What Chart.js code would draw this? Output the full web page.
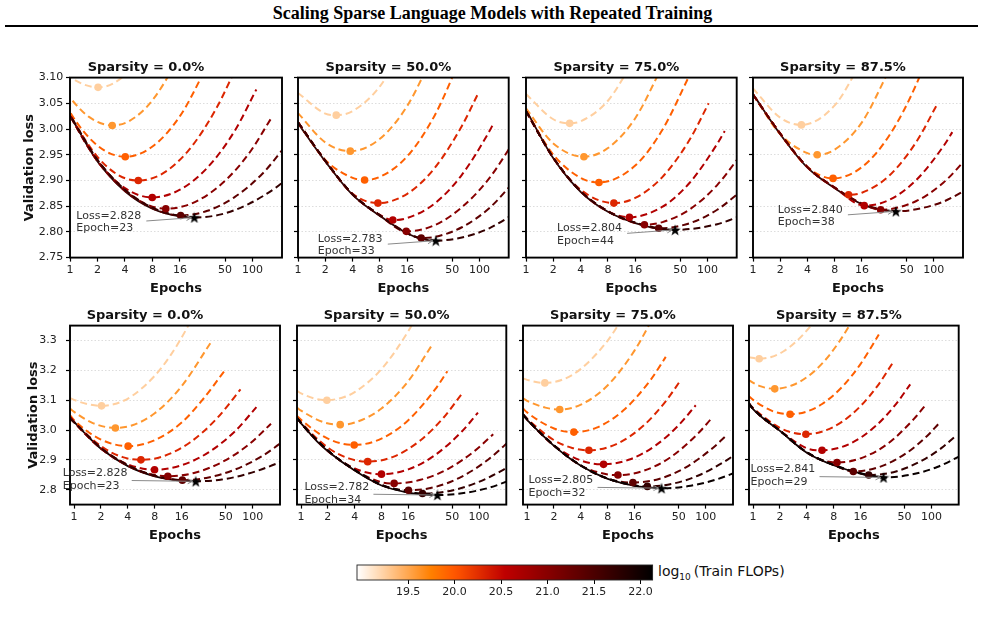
<!DOCTYPE html>
<html>
<head>
<meta charset="utf-8">
<script src="https://cdn.jsdelivr.net/npm/chart.js@4.4.1/dist/chart.umd.min.js"></script>
<style>
  html, body { margin: 0; padding: 0; background: #fff; }
  body { position: relative; width: 985px; height: 635px; overflow: hidden; font-family: "DejaVu Sans", sans-serif; }
  canvas { position: absolute; }
  #header { position: absolute; left: 0; top: 3px; width: 985px; text-align: center;
            font: bold 18px "Liberation Serif", serif; color: #000; }
  #rule { position: absolute; left: 5px; top: 25px; width: 973px; height: 2px; background: #000; }
  #cblabel { position: absolute; left: 658px; top: 563px; font: 14px "DejaVu Sans", sans-serif; color: #111; white-space: nowrap; }
  #cblabel sub { font-size: 9px; margin-right: 3px; }
</style>
</head>
<body>
<div id="header">Scaling Sparse Language Models with Repeated Training</div>
<div id="rule"></div>
<div id="cblabel">log<sub>10</sub>(Train FLOPs)</div>
<script>
// ---------- data ----------
const sparsityLabels = ["0.0%", "50.0%", "75.0%", "87.5%"];
const epochTicks = [1, 2, 4, 8, 16, 50, 100];
const lossTicksTop = [2.75, 2.80, 2.85, 2.90, 2.95, 3.00, 3.05, 3.10];
const lossTicksBottom = [2.8, 2.9, 3.0, 3.1, 3.2, 3.3];
const flopsLevels = [19.25, 19.6, 19.95, 20.3, 20.65, 21.0, 21.35, 21.7, 22.05];
const flopsTicks = [19.5, 20.0, 20.5, 21.0, 21.5, 22.0];
const flopsRange = [18.95, 22.13];

// [epochs, validation loss] per FLOPs budget, lightest first
const curves0 = [
  [[0.9,3.107],[1,3.101],[1.4,3.087],[2.03,3.081],[3,3.089],[4.5,3.115],[8,3.182],[12,3.25],[18.9,3.349],[22,3.39]],
  [[0.9,3.072],[1,3.061],[1.6,3.024],[2.9,3.007],[4.5,3.016],[8,3.056],[16,3.147],[33.7,3.292]],
  [[0.9,3.05],[1,3.033],[2,2.968],[4.03,2.946],[8,2.966],[16,3.025],[27.2,3.10],[49.6,3.203]],
  [[0.9,3.044],[1,3.028],[2,2.946],[3.5,2.909],[5.6,2.90],[10,2.912],[20,2.959],[40,3.04],[73,3.136]],
  [[0.9,3.044],[1,3.027],[2,2.938],[4,2.885],[7.96,2.867],[16,2.882],[32,2.925],[64,2.997],[110,3.077]],
  [[0.9,3.044],[1,3.027],[2,2.938],[4,2.880],[7,2.853],[11.2,2.845],[22,2.856],[45,2.892],[90,2.951],[160,3.021]],
  [[0.9,3.041],[1,3.026],[2,2.940],[4,2.881],[8,2.846],[16.3,2.832],[32,2.841],[64,2.868],[128,2.913],[230,2.967]],
  [[0.9,3.037],[1,3.026],[2,2.940],[4,2.882],[8,2.847],[16,2.831],[23,2.828],[45,2.834],[90,2.854],[180,2.886],[230,2.901]]
];
const envelope0 = [[1,3.027],[1.5,2.972],[2,2.937],[4,2.879],[8,2.845],[16,2.830],[23,2.828]];

const curves50 = [
  [[1,3.070],[2,3.030],[2.64,3.027],[4,3.035],[8,3.083],[16,3.174]],
  [[1,3.031],[2,2.974],[3.77,2.957],[8,2.981],[16,3.045],[32,3.150]],
  [[1,3.013],[2,2.940],[4,2.905],[5.42,2.901],[8,2.907],[16,2.947],[32,3.026],[64,3.143]],
  [[1,3.013],[2,2.938],[4,2.874],[7.6,2.856],[16,2.874],[32,2.924],[64,3.006],[96,3.068]],
  [[1,3.013],[2,2.938],[4,2.873],[8,2.833],[11.1,2.823],[16,2.827],[32,2.855],[64,2.911],[128,2.995],[143,3.011]],
  [[1,3.013],[2,2.938],[4,2.873],[8,2.832],[15.6,2.801],[32,2.813],[64,2.848],[128,2.904],[256,2.984]],
  [[1,3.013],[2,2.938],[4,2.873],[8,2.832],[16,2.798],[22.8,2.788],[32,2.790],[64,2.809],[128,2.846],[256,2.903]],
  [[1,3.013],[2,2.938],[4,2.873],[8,2.832],[16,2.797],[33,2.783],[64,2.789],[128,2.807],[256,2.838]]
];
const envelope50 = [[1,3.011],[2,2.937],[4,2.872],[8,2.831],[16,2.797],[22.8,2.787],[33,2.783]];

const curves75 = [
  [[1,3.068],[2,3.019],[3.03,3.011],[4,3.015],[8,3.055],[16,3.139]],
  [[1,3.040],[2,2.972],[4.35,2.946],[8,2.963],[16,3.021],[32,3.123]],
  [[1,3.035],[2,2.950],[4,2.905],[6.37,2.896],[16,2.929],[32,2.999],[64,3.106]],
  [[1,3.035],[2,2.944],[4,2.882],[9.3,2.856],[16,2.866],[32,2.907],[64,2.980],[103,3.050]],
  [[1,3.035],[2,2.944],[4,2.879],[8,2.840],[13.8,2.8285],[32,2.849],[64,2.896],[128,2.971],[155,2.996]],
  [[1,3.035],[2,2.944],[4,2.879],[8,2.840],[16,2.817],[20.2,2.814],[32,2.819],[64,2.844],[128,2.891],[256,2.960]],
  [[1,3.035],[2,2.944],[4,2.879],[8,2.840],[16,2.818],[29,2.807],[64,2.817],[128,2.843],[256,2.885]],
  [[1,3.035],[2,2.944],[4,2.879],[8,2.840],[16,2.818],[32,2.806],[44,2.804],[128,2.815],[256,2.834]]
];
const envelope75 = [[1,3.037],[2,2.943],[4,2.878],[8,2.839],[16,2.817],[29,2.806],[44,2.804]];

const curves875 = [
  [[1,3.079],[2,3.022],[3.43,3.008],[8,3.046],[16,3.132]],
  [[1,3.067],[2,2.990],[4,2.953],[5.13,2.950],[8,2.960],[16,3.013],[32,3.114]],
  [[1,3.067],[2,2.991],[4,2.926],[7.68,2.904],[16,2.926],[32,2.987],[64,3.087],[128,3.226]],
  [[1,3.067],[2,2.991],[4,2.926],[8,2.886],[11.4,2.872],[16,2.876],[32,2.909],[64,2.975],[108,3.047]],
  [[1,3.067],[2,2.991],[4,2.926],[8,2.886],[17,2.851],[32,2.862],[64,2.901],[128,2.967],[160,2.994]],
  [[1,3.067],[2,2.991],[4,2.926],[8,2.886],[16,2.855],[25.8,2.843],[64,2.860],[128,2.896],[256,2.952]],
  [[1,3.067],[2,2.991],[4,2.926],[8,2.886],[16,2.855],[32,2.841],[38,2.840],[64,2.844],[128,2.859],[256,2.887]]
];
const envelope875 = [[1,3.068],[2,2.990],[4,2.925],[8,2.885],[16,2.854],[25.8,2.843],[38,2.840]];

// second row (other fit), 50 / 75 / 87.5 %
const curves50b = [
  [[0.9,3.131],[1,3.123],[1.4,3.106],[1.95,3.100],[3,3.110],[4,3.127],[8,3.204],[16,3.331],[20,3.383]],
  [[0.9,3.075],[1,3.065],[1.8,3.026],[2.75,3.018],[4,3.025],[8,3.072],[16,3.164],[29.9,3.287]],
  [[0.9,3.047],[1,3.034],[2,2.971],[3.95,2.950],[8,2.971],[16,3.033],[32,3.136],[44,3.197]],
  [[0.9,3.041],[1,3.025],[2,2.941],[3.5,2.904],[5.6,2.894],[11,2.911],[22,2.966],[40,3.042],[64.6,3.123]],
  [[0.9,3.041],[1,3.023],[2,2.930],[4,2.871],[8,2.852],[16,2.868],[32,2.916],[64,2.995],[97,3.058]],
  [[0.9,3.041],[1,3.023],[2,2.931],[4,2.866],[8,2.825],[11.1,2.821],[22,2.833],[45,2.870],[90,2.931],[144,2.986]],
  [[0.9,3.041],[1,3.023],[2,2.931],[4,2.866],[8,2.816],[16.1,2.798],[32,2.809],[64,2.844],[128,2.902],[230,2.969]],
  [[0.9,3.041],[1,3.023],[2,2.931],[4,2.866],[8,2.816],[16,2.793],[23.1,2.787],[45,2.795],[90,2.821],[180,2.864],[230,2.884]],
  [[0.9,3.041],[1,3.023],[2,2.931],[4,2.866],[8,2.816],[16,2.792],[24,2.785],[34,2.782],[64,2.788],[128,2.806],[230,2.833]]
];
const envelope50b = [[1,3.022],[1.5,2.963],[2,2.929],[4,2.864],[8,2.814],[16,2.790],[23,2.784],[34,2.782]];

const curves75b = [
  [[0.9,3.173],[1,3.168],[1.58,3.158],[2.5,3.169],[4,3.205],[8,3.300],[12,3.380]],
  [[0.9,3.106],[1,3.098],[1.6,3.075],[2.32,3.069],[4,3.085],[8,3.150],[16,3.267],[26,3.379]],
  [[0.9,3.072],[1,3.059],[2,3.005],[3.34,2.993],[6,3.008],[12,3.066],[24,3.167],[35.7,3.245]],
  [[0.9,3.052],[1,3.038],[2,2.966],[3.2,2.940],[4.92,2.932],[10,2.953],[20,3.014],[36,3.098],[51.6,3.164]],
  [[0.9,3.052],[1,3.036],[2,2.948],[4,2.898],[7.18,2.885],[14,2.901],[28,2.950],[50,3.017],[77.3,3.083]],
  [[0.9,3.052],[1,3.036],[2,2.948],[4,2.881],[8,2.851],[10.4,2.849],[20,2.863],[40,2.908],[80,2.985],[114,3.036]],
  [[0.9,3.052],[1,3.036],[2,2.948],[4,2.881],[8,2.837],[15.3,2.824],[30,2.836],[60,2.875],[120,2.940],[168,2.980]],
  [[0.9,3.052],[1,3.036],[2,2.948],[4,2.881],[8,2.837],[16,2.814],[22.2,2.811],[44,2.821],[88,2.851],[176,2.901],[230,2.926]],
  [[0.9,3.052],[1,3.036],[2,2.948],[4,2.881],[8,2.837],[16,2.814],[22,2.808],[32,2.805],[64,2.812],[128,2.833],[230,2.861]]
];
const envelope75b = [[1,3.033],[2,2.947],[4,2.880],[8,2.836],[16,2.813],[22,2.808],[32,2.805]];

const curves875b = [
  [[0.89,3.244],[1.17,3.239],[1.6,3.245],[2.2,3.264],[3,3.295],[4.45,3.350],[5.5,3.389]],
  [[0.89,3.167],[1.2,3.147],[1.75,3.138],[2.8,3.151],[4,3.177],[6,3.224],[9,3.291],[12,3.350],[14,3.385]],
  [[0.89,3.114],[1,3.101],[1.7,3.062],[2.6,3.053],[4,3.062],[6,3.088],[10,3.145],[16,3.221],[25.7,3.320]],
  [[0.89,3.090],[1,3.074],[2,3.007],[2.8,2.991],[3.91,2.986],[6,2.995],[10,3.028],[16,3.080],[25,3.149],[37.5,3.229]],
  [[0.89,3.090],[1,3.071],[2,2.998],[4,2.939],[5.93,2.932],[12,2.953],[24,3.015],[40,3.087],[57.8,3.153]],
  [[0.89,3.090],[1,3.071],[2,2.998],[4,2.925],[6,2.899],[8.73,2.891],[16,2.905],[32,2.953],[64,3.038],[83.8,3.080]],
  [[0.89,3.090],[1,3.071],[2,2.998],[4,2.925],[8,2.883],[13.3,2.861],[26,2.876],[52,2.922],[90,2.981],[121,3.022]],
  [[0.89,3.090],[1,3.071],[2,2.998],[4,2.925],[8,2.883],[14,2.859],[19.8,2.849],[40,2.861],[80,2.899],[130,2.940],[179,2.975]],
  [[0.89,3.090],[1,3.071],[2,2.998],[4,2.925],[8,2.883],[16,2.855],[21,2.847],[29,2.841],[58,2.850],[116,2.876],[230,2.919]]
];
const envelope875b = [[0.9,3.089],[1,3.070],[2,2.997],[4,2.924],[8,2.882],[16,2.855],[29,2.841]];

// ---------- layout (plot-area boxes in page pixels) ----------
const topBoxes = [[70, 78, 212, 180], [298.3, 78, 210.7, 180], [526, 78, 210.7, 180], [753.3, 78, 210, 180]];
const bottomBoxes = [[70, 326, 210, 179], [296.7, 326, 209.3, 179], [522.7, 326, 210, 179], [749.3, 326, 209.7, 179]];

Chart.defaults.font.family = '"DejaVu Sans", sans-serif';
Chart.defaults.color = "#222";

// gist_heat_r colormap
function heat(v) {
  let t = (v - flopsRange[0]) / (flopsRange[1] - flopsRange[0]);
  t = Math.min(1, Math.max(0, t));
  const x = 1 - t;
  const cl = (a) => Math.round(Math.min(1, Math.max(0, a)) * 255);
  return "rgb(" + cl(1.5 * x) + "," + cl(2 * x - 1) + "," + cl(4 * x - 3) + ")";
}

function starImage(size) {
  const c = document.createElement("canvas");
  c.width = c.height = size;
  const g = c.getContext("2d");
  g.fillStyle = "#000";
  g.beginPath();
  for (let i = 0; i < 10; i++) {
    const r = i % 2 ? size * 0.2 : size * 0.5;
    const a = -Math.PI / 2 + i * Math.PI / 5;
    g.lineTo(size / 2 + r * Math.cos(a), size / 2 + 0.6 + r * Math.sin(a));
  }
  g.closePath();
  g.fill();
  return c;
}
const starImg = starImage(12);

const framePlugin = {
  id: "frame",
  afterDatasetsDraw(chart) {
    const { ctx, chartArea: a } = chart;
    ctx.save();
    ctx.strokeStyle = "#000";
    ctx.lineWidth = 1.9;
    ctx.strokeRect(a.left, a.top, a.right - a.left, a.bottom - a.top);
    ctx.restore();
  }
};

const starNote = {
  id: "starNote",
  afterDatasetsDraw(chart, args, o) {
    if (!o || o.epoch == null) return;
    const { ctx } = chart;
    const px = chart.scales.x.getPixelForValue(o.epoch);
    const py = chart.scales.y.getPixelForValue(o.loss);
    const tx = px + o.tail[0], ty = py + o.tail[1];
    const len = Math.hypot(px - tx, py - ty);
    const ux = (px - tx) / len, uy = (py - ty) / len;
    const ex = px - ux * 3, ey = py - uy * 3;
    ctx.save();
    ctx.strokeStyle = "#8a8a8a";
    ctx.lineWidth = 1;
    ctx.beginPath();
    ctx.moveTo(tx, ty);
    ctx.lineTo(ex, ey);
    const hx = -ux * 5, hy = -uy * 5;
    ctx.moveTo(ex + hx - uy * 2.5, ey + hy + ux * 2.5);
    ctx.lineTo(ex, ey);
    ctx.lineTo(ex + hx + uy * 2.5, ey + hy - ux * 2.5);
    ctx.stroke();
    ctx.fillStyle = "#333";
    ctx.font = '11px "DejaVu Sans", sans-serif';
    ctx.textAlign = "left";
    ctx.textBaseline = "middle";
    ctx.fillText("Loss=" + o.loss.toFixed(3), px + o.text[0], py + o.text[1]);
    ctx.fillText("Epoch=" + Math.round(o.epoch), px + o.text[0], py + o.text[2]);
    ctx.restore();
  }
};

function addPanel(box, col, bottomRow, label, curves, envelope) {
  const [L, T, W, H] = box;
  const padL = col === 0 ? 60 : 30;
  const padT = 19.6; // title 13px * 1.2 + 4 padding
  const cw = Math.ceil(2 * padL + W);
  const ch = Math.ceil(padT + H + 40);
  const padR = cw - padL - W;
  const padB = ch - padT - H;

  const canvas = document.createElement("canvas");
  canvas.width = cw;
  canvas.height = ch;
  canvas.style.left = (L - padL) + "px";
  canvas.style.top = (T - padT) + "px";
  document.body.appendChild(canvas);

  const n = curves.length;
  const colors = curves.map((c, i) => heat(flopsLevels[i]));
  const minima = curves.map(c => c.reduce((m, p) => (p[1] < m[1] ? p : m)));
  const best = minima[n - 1];
  const toXY = pts => pts.map(([x, y]) => ({ x, y }));

  const datasets = [
    { data: [{ x: best[0], y: best[1] }], showLine: false, pointStyle: starImg, pointRadius: 6 },
    { data: toXY(minima.slice(0, n - 1)), showLine: false, pointRadius: 3.8, pointBorderWidth: 0,
      pointBackgroundColor: colors.slice(0, n - 1) }
  ];
  for (let i = n - 1; i >= 0; i--) {
    datasets.push({ data: toXY(curves[i]), borderColor: colors[i], borderWidth: 2, borderDash: [7, 4],
      pointRadius: 0, cubicInterpolationMode: "monotone", fill: false });
  }
  datasets.push({ data: toXY(envelope), borderColor: bottomRow ? "#120202" : "#2a0505", borderWidth: 1.8,
    pointRadius: 0, cubicInterpolationMode: "monotone", fill: false });

  const note = bottomRow
    ? { text: [-133, -8, 4.8], tail: [-64, -0.8] }
    : { text: [-118, -1.5, 11], tail: [-48, 3.5] };

  new Chart(canvas, {
    type: "line",
    data: { datasets },
    options: {
      responsive: false,
      animation: false,
      events: [],
      layout: { padding: { right: padR } },
      plugins: {
        legend: { display: false },
        tooltip: { enabled: false },
        title: { display: true, text: "Sparsity = " + label, color: "#111",
                 font: { size: 13, weight: "bold" }, padding: { top: 2, bottom: 2 } },
        starNote: { epoch: best[0], loss: best[1], text: note.text, tail: note.tail }
      },
      scales: {
        x: {
          type: "logarithmic",
          min: bottomRow ? 0.9 : 1,
          max: bottomRow ? 202 : 210,
          afterFit: s => { s.height = padB; },
          afterBuildTicks: s => { s.ticks = epochTicks.map(v => ({ value: v })); },
          ticks: { callback: v => String(v), font: { size: 11 }, color: "#222", padding: 2.4,
                   maxRotation: 0, autoSkip: false },
          grid: { drawOnChartArea: false, tickLength: 4, tickColor: "#000", tickWidth: 1.2 },
          border: { display: false },
          title: { display: true, text: "Epochs", color: "#111", font: { size: 13, weight: "bold" },
                   padding: { top: 0, bottom: padB - 31 - 7.8 } }
        },
        y: {
          type: "linear",
          min: 2.75,
          max: bottomRow ? 3.35 : 3.10,
          afterFit: s => { s.width = padL; },
          afterBuildTicks: s => { s.ticks = (bottomRow ? lossTicksBottom : lossTicksTop).map(v => ({ value: v })); },
          ticks: { callback: v => (col === 0 ? v.toFixed(bottomRow ? 1 : 2) : ""), font: { size: 11 },
                   color: "#222", padding: bottomRow ? 9.3 : 2.7 },
          grid: { color: "#d4d4d4", lineWidth: 0.8, tickLength: 4, tickColor: "#000", tickWidth: 1.2 },
          border: { display: false, dash: [1.5, 2] },
          title: { display: col === 0, text: "Validation loss", color: "#111", font: { size: 13, weight: "bold" },
                   padding: { top: bottomRow ? 15.5 : 12.2, bottom: 0 } }
        }
      }
    },
    plugins: [framePlugin, starNote]
  });
}

const topSets = [[curves0, envelope0], [curves50, envelope50], [curves75, envelope75], [curves875, envelope875]];
const bottomSets = [[curves0, envelope0], [curves50b, envelope50b], [curves75b, envelope75b], [curves875b, envelope875b]];
topSets.forEach((s, i) => addPanel(topBoxes[i], i, false, sparsityLabels[i], s[0], s[1]));
bottomSets.forEach((s, i) => addPanel(bottomBoxes[i], i, true, sparsityLabels[i], s[0], s[1]));

// ---------- colorbar ----------
(function () {
  const L = 356.7, T = 565, W = 295.6, H = 15;
  const pl = 20, pt = 5;
  const cw = Math.ceil(pl + W + 20), ch = Math.ceil(pt + H + 26);
  const canvas = document.createElement("canvas");
  canvas.width = cw;
  canvas.height = ch;
  canvas.style.left = (L - pl) + "px";
  canvas.style.top = (T - pt) + "px";
  document.body.appendChild(canvas);

  const fillBar = {
    id: "fillBar",
    beforeDatasetsDraw(chart) {
      const { ctx, chartArea: a } = chart;
      const grad = ctx.createLinearGradient(a.left, 0, a.right, 0);
      for (let i = 0; i <= 40; i++) {
        const v = flopsRange[0] + (flopsRange[1] - flopsRange[0]) * i / 40;
        grad.addColorStop(i / 40, heat(v));
      }
      ctx.save();
      ctx.fillStyle = grad;
      ctx.fillRect(a.left, a.top, a.right - a.left, a.bottom - a.top);
      ctx.strokeStyle = "#222";
      ctx.lineWidth = 0.9;
      ctx.strokeRect(a.left, a.top, a.right - a.left, a.bottom - a.top);
      ctx.restore();
    }
  };

  new Chart(canvas, {
    type: "scatter",
    data: { datasets: [] },
    options: {
      responsive: false,
      animation: false,
      events: [],
      layout: { padding: { left: pl, right: cw - pl - W, top: pt } },
      plugins: { legend: { display: false }, tooltip: { enabled: false } },
      scales: {
        x: {
          type: "linear",
          min: flopsRange[0],
          max: flopsRange[1],
          afterFit: s => { s.height = ch - pt - H; },
          afterBuildTicks: s => { s.ticks = flopsTicks.map(v => ({ value: v })); },
          ticks: { callback: v => v.toFixed(1), font: { size: 11 }, color: "#222", padding: 2,
                   maxRotation: 0, autoSkip: false },
          grid: { drawOnChartArea: false, tickLength: 4, tickColor: "#000", tickWidth: 1 },
          border: { display: false }
        },
        y: { display: false, min: 0, max: 1 }
      }
    },
    plugins: [fillBar]
  });
})();
</script>
</body>
</html>
